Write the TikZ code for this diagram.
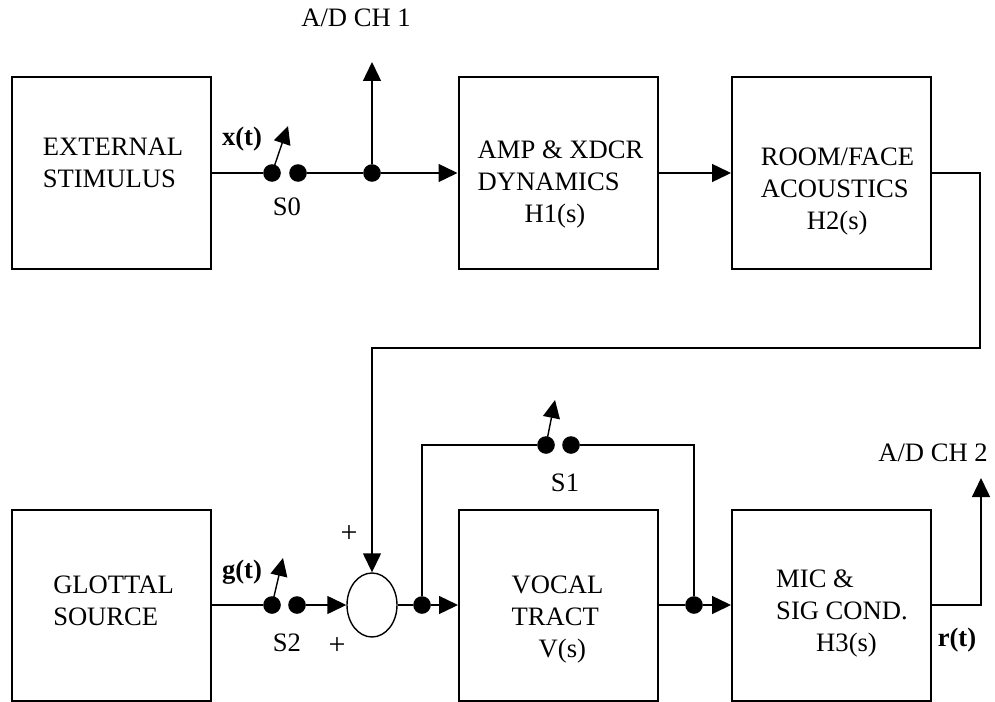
\documentclass[tikz,border=0pt]{standalone}
\usepackage{fontspec}
\setmainfont{Liberation Serif}
\usetikzlibrary{arrows.meta,shapes.geometric}

\tikzset{
  blk/.style={draw, line width=1pt, minimum width=99.5pt, minimum height=95.5pt, inner sep=0pt},
  txt/.style={align=left, font=\fontsize{13.3}{16}\selectfont},
  lbl/.style={font=\fontsize{13.3}{16}\selectfont, inner sep=1pt},
  blbl/.style={lbl, font=\fontsize{13.3}{16}\selectfont\bfseries},
  pls/.style={lbl, font=\fontsize{15}{16}\selectfont},
  wire/.style={line width=0.7pt},
  sig/.style={wire, -{Triangle[length=9.5pt,width=9pt]}},
  sw/.style={wire, -{Triangle[length=9pt,width=8.5pt]}},
  dot/.style={circle, fill, inner sep=0pt, minimum size=8.8pt},
}

\begin{document}
\begin{tikzpicture}[x=0.5pt, y=-0.5pt]
\useasboundingbox (0,0) rectangle (995,701);

% Blocks
\node[blk, label={[txt, xshift=0.75pt, yshift=5pt]center:{EXTERNAL\\STIMULUS}}] (ext) at (111.5,173) {};
\node[blk, label={[txt, xshift=1.25pt, yshift=-5.75pt]center:{AMP \& XDCR\\DYNAMICS\\\hspace*{23.5pt}H1(s)}}] (amp) at (558,173) {};
\node[blk, label={[txt, xshift=3pt, yshift=-9.25pt]center:{ROOM/FACE\\ACOUSTICS\\\hspace*{23pt}H2(s)}}] (room) at (831.5,173) {};
\node[blk, label={[txt, xshift=1pt, yshift=2.25pt]center:{GLOTTAL\\SOURCE}}] (glot) at (111.5,605) {};
\node[blk, label={[txt, xshift=-0.5pt, yshift=-7.25pt]center:{VOCAL\\TRACT\\\hspace*{13.5pt}V(s)}}] (voc) at (558.5,605) {};
\node[blk, label={[txt, xshift=5.25pt, yshift=-4pt]center:{MIC \&\\SIG COND.\\\hspace*{20pt}H3(s)}}] (mic) at (831.5,605) {};

% Summing junction
\node[draw, wire, ellipse, minimum width=25pt, minimum height=32pt, inner sep=0pt] (sum) at (372,605) {};

% Switch contacts and junction dots
\node[dot] (s0a) at (272,173) {};
\node[dot] (s0b) at (298,173) {};
\node[dot] (j0) at (372,173) {};
\node[dot] (s2a) at (272,605) {};
\node[dot] (s2b) at (297,605) {};
\node[dot] (j1) at (422,605) {};
\node[dot] (j2) at (694,605) {};
\node[dot] (s1a) at (546,445) {};
\node[dot] (s1b) at (571,445) {};

\coordinate (s0t) at (288,126);
\coordinate (s2t) at (283,558);
\coordinate (s1t) at (555,400);
\coordinate (ad1) at (372,62);
\coordinate (ad2) at (981,478);
\coordinate (ret) at (980,348);

% Upper path
\draw[wire] (ext) -- (s0a);
\draw[wire] (s0b) -- (j0);
\draw[sig] (j0) -- (amp);
\draw[sig] (j0) -- (ad1);
\draw[sig] (amp) -- (room);
\draw[sig] (room.east) -| (ret) -| (sum.north);

% Lower path
\draw[wire] (glot) -- (s2a);
\draw[sig] (s2b) -- (sum);
\draw[wire] (sum) -- (j1);
\draw[sig] (j1) -- (voc);
\draw[wire] (j1) |- (s1a);
\draw[wire] (s1b) -| (j2);
\draw[wire] (voc) -- (j2);
\draw[sig] (j2) -- (mic);
\draw[sig] (mic.east) -| (ad2);

% Switch levers
\draw[sw] (s0a.center) -- (s0t);
\draw[sw] (s2a.center) -- (s2t);
\draw[sw] (s1a.center) -- (s1t);

% Labels
\node[lbl] (ad1l) at (356,18) {A/D CH 1};
\node[lbl] (ad2l) at (933,453) {A/D CH 2};
\node[blbl] (xt) at (242,139) {x(t)};
\node[blbl] (gt) at (242,572) {g(t)};
\node[blbl] (rt) at (957,640) {r(t)};
\node[lbl] (s0l) at (287,207) {S0};
\node[lbl] (s2l) at (287,643) {S2};
\node[lbl] (s1l) at (565,483) {S1};
\node[pls] (pl1) at (349,534) {+};
\node[pls] (pl2) at (337,646) {+};

\end{tikzpicture}
\end{document}
